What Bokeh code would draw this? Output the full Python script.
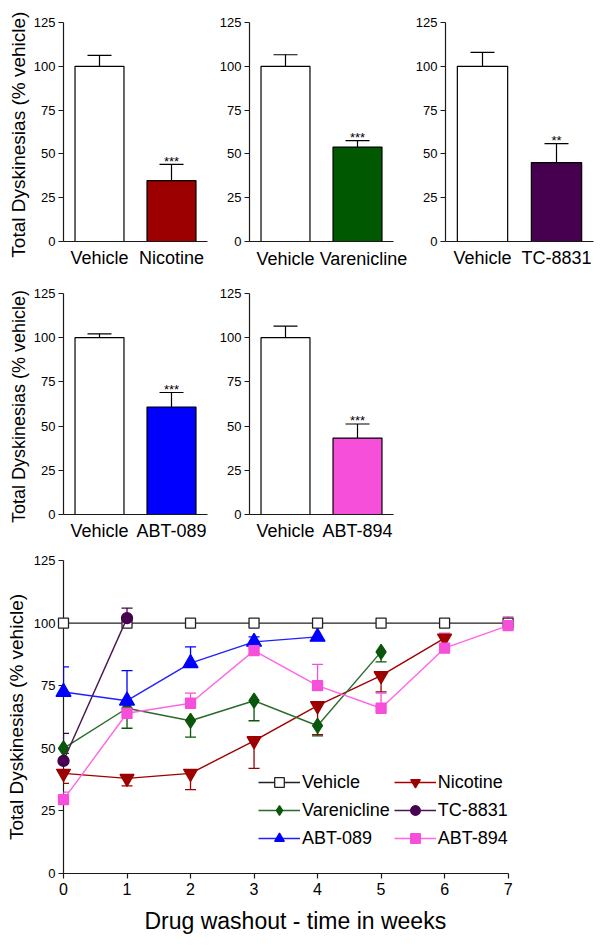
from bokeh.plotting import figure
from bokeh.models import (ColumnDataSource, Whisker, TeeHead, FixedTicker, Range1d,
                          FactorRange, Legend, LegendItem)
from bokeh.layouts import column, row
from bokeh.embed import file_html
from bokeh.resources import INLINE
from bokeh.core.properties import value

FONT = "Liberation Sans"

# ---------------- Bar panels data ----------------
bar_drugs = ["Nicotine", "Varenicline", "TC-8831", "ABT-089", "ABT-894"]
bar_vehicle_mean = [100, 100, 100, 100, 100]
bar_vehicle_sem = [6.2, 6.6, 7.9, 2.2, 6.5]
bar_drug_mean = [34.8, 53.9, 45.0, 60.8, 43.2]
bar_drug_sem = [9.2, 3.7, 10.9, 8.2, 8.0]
bar_stars = ["***", "***", "**", "***", "***"]
bar_colors = ["#9C0000", "#005800", "#47004F", "#0000FF", "#F64FD9"]
bar_yticks = [0, 25, 50, 75, 100, 125]

# ---------------- Washout data ----------------
weeks = [0, 1, 2, 3, 4, 5, 6, 7]
vehicle = [100, 100, 100, 100, 100, 100, 100, 100]

nic_weeks = [0, 1, 2, 3, 4, 5, 6]
nic_mean = [40, 38, 40, 53, 67, 79, 94]
nic_err = [4, 3, 6.5, 11, 11.5, 6.5, 3]          # drawn downward

var_weeks = [0, 1, 2, 3, 4, 5]
var_mean = [50, 66, 61, 69, 59, 88.5]
var_err = [2, 8, 6.5, 8, 4, 4]                     # drawn downward

tc_weeks = [0, 1]
tc_mean = [45, 102]
tc_err = [11, 4]                                   # drawn upward

a089_weeks = [0, 1, 2, 3, 4]
a089_mean = [72.5, 69, 84, 92.5, 94.5]
a089_err = [10, 12, 6.5, 2, 6]                     # drawn upward

a894_weeks = [0, 1, 2, 3, 4, 5, 6, 7]
a894_mean = [29.5, 64, 68, 89, 75, 66, 90, 99]
a894_err = [3, 2, 4, 1, 8.5, 6, 6, 3.5]            # drawn upward

AXIS_COLOR = "#1a1a1a"


def style_axes(p):
    p.outline_line_color = None
    p.xgrid.visible = False
    p.ygrid.visible = False
    p.background_fill_color = "white"
    p.border_fill_color = "white"
    for ax in (p.xaxis[0], p.yaxis[0]):
        ax.axis_line_color = AXIS_COLOR
        ax.axis_line_width = 1.2
        ax.major_tick_line_color = AXIS_COLOR
        ax.major_tick_line_width = 1.2
        ax.minor_tick_line_color = None
        ax.major_label_text_font = FONT
        ax.axis_label_text_font = FONT
        ax.major_label_text_color = "black"
        ax.axis_label_text_color = "black"
        ax.axis_label_text_font_style = "normal"


def bar_panel(i, left, frame_w, right, top, frame_h, bottom, title_size, drug_label_shift=0):
    cats = ["Vehicle", bar_drugs[i]]
    src = ColumnDataSource(dict(
        cat=cats,
        mean=[bar_vehicle_mean[i], bar_drug_mean[i]],
        upper=[bar_vehicle_mean[i] + bar_vehicle_sem[i], bar_drug_mean[i] + bar_drug_sem[i]],
        fill=["white", bar_colors[i]],
    ))
    p = figure(x_range=FactorRange(*cats, range_padding=0), y_range=Range1d(0, 125),
               width=left + frame_w + right, height=top + frame_h + bottom,
               min_border_left=left, min_border_right=right,
               min_border_top=top, min_border_bottom=bottom,
               output_backend="svg", toolbar_location=None)
    style_axes(p)
    p.vbar(x="cat", top="mean", width=0.68, source=src, fill_color="fill",
           line_color="black", line_width=1.2)
    p.add_layout(Whisker(base="cat", upper="upper", lower="mean", source=src,
                         upper_head=TeeHead(size=24, line_color="black", line_width=1.2),
                         lower_head=None, line_color="black", line_width=1.2))
    star_src = ColumnDataSource(dict(x=[bar_drugs[i]], y=[bar_drug_mean[i] + bar_drug_sem[i]],
                                     t=[bar_stars[i]]))
    p.text(x="x", y="y", text="t", source=star_src, text_align="center",
           text_baseline="alphabetic", y_offset=-3, text_font=value(FONT),
           text_font_size="13px", text_color="black")
    p.yaxis.ticker = FixedTicker(ticks=bar_yticks)
    p.yaxis.major_label_text_font_size = "13px"
    p.yaxis.major_tick_out = 5
    p.yaxis.major_tick_in = 0
    p.yaxis.major_label_standoff = 3
    p.xaxis.major_tick_out = 0
    p.xaxis.major_tick_in = 0
    p.xaxis.major_label_text_font_size = "18px"
    p.xaxis.major_label_standoff = 6
    if drug_label_shift:
        # category names drawn as text so the long name can sit clear of "Vehicle"
        p.xaxis.major_label_text_color = None
        for k, cat in enumerate(cats):
            r = p.text(x=[cat], y=[0], text=[cat], text_align="center", text_baseline="top",
                       x_offset=drug_label_shift if k == 1 else 0, y_offset=7,
                       text_font=value(FONT), text_font_size="18px", text_color="black")
            r.level = "overlay"
    if title_size:
        p.yaxis.axis_label = "Total Dyskinesias (%  vehicle)"
        p.yaxis.axis_label_text_font_size = title_size
        p.yaxis.axis_label_standoff = 2
    return p


f1 = bar_panel(0, 63, 144, 3, 22, 219, 39, "19px")
f2 = bar_panel(1, 39, 144, 19, 22, 219, 39, None, drug_label_shift=6)
f3 = bar_panel(2, 33, 148, 7, 22, 219, 39, None)
f4 = bar_panel(3, 63, 144, 3, 13, 221, 38, "18px")
f5 = bar_panel(4, 39, 144, 14, 13, 221, 38, None)

# ---------------- Washout line chart ----------------
p = figure(x_range=Range1d(0, 7.4), y_range=Range1d(0, 125), width=600, height=392,
           min_border_left=63, min_border_right=67, min_border_top=8, min_border_bottom=71,
           output_backend="svg", toolbar_location=None)
style_axes(p)
p.xaxis.bounds = (0, 7)
p.xaxis.ticker = FixedTicker(ticks=weeks)
p.yaxis.ticker = FixedTicker(ticks=bar_yticks)
p.xaxis.major_label_text_font_size = "16px"
p.yaxis.major_label_text_font_size = "13px"
p.xaxis.major_tick_out = 5
p.xaxis.major_tick_in = 0
p.yaxis.major_tick_out = 5
p.yaxis.major_tick_in = 0
p.xaxis.major_label_standoff = 4
p.yaxis.major_label_standoff = 3
p.xaxis.axis_label = "Drug washout  - time in weeks"
p.xaxis.axis_label_text_font_size = "23px"
p.xaxis.axis_label_standoff = 10
p.yaxis.axis_label = "Total Dyskinesias (% vehicle)"
p.yaxis.axis_label_text_font_size = "19px"
p.yaxis.axis_label_standoff = 4

series = [
    # name, weeks, mean, err, direction, line color, marker color, marker, size, fill
    ("Vehicle", weeks, vehicle, None, 0, "#222222", "#222222", "square", 10, "white"),
    ("Nicotine", nic_weeks, nic_mean, nic_err, -1, "#A00000", "#9C0000", "inverted_triangle", 14, None),
    ("Varenicline", var_weeks, var_mean, var_err, -1, "#2A6A2A", "#0A560A", "diamond", 15, None),
    ("TC-8831", tc_weeks, tc_mean, tc_err, 1, "#4A1450", "#47004F", "circle", 11, None),
    ("ABT-089", a089_weeks, a089_mean, a089_err, 1, "#2020FF", "#0000FF", "triangle", 15, None),
    ("ABT-894", a894_weeks, a894_mean, a894_err, 1, "#FF66E6", "#F64FD9", "square", 10, None),
]

items = {}
for name, xs, ys, errs, direction, lc, mc, marker, size, fill in series:
    data = dict(x=xs, y=ys)
    if errs is not None:
        if direction < 0:
            data["lo"] = [y - e for y, e in zip(ys, errs)]
            data["hi"] = list(ys)
        else:
            data["lo"] = list(ys)
            data["hi"] = [y + e for y, e in zip(ys, errs)]
    src = ColumnDataSource(data)
    if errs is not None:
        w = Whisker(base="x", upper="hi", lower="lo", source=src, line_color=mc, line_width=1.3,
                    upper_head=TeeHead(size=11, line_color=mc, line_width=1.3) if direction > 0 else None,
                    lower_head=TeeHead(size=11, line_color=mc, line_width=1.3) if direction < 0 else None,
                    level="annotation")
        p.add_layout(w)
    lr = p.line("x", "y", source=src, line_color=lc, line_width=1.4)
    lr.level = "overlay"
    sr = p.scatter("x", "y", source=src, marker=marker, size=size,
                   fill_color=fill if fill else mc, line_color=mc, line_width=1.3)
    sr.level = "overlay"
    items[name] = LegendItem(label=name, renderers=[lr, sr])

order = ["Vehicle", "Nicotine", "Varenicline", "TC-8831", "ABT-089", "ABT-894"]
legend = Legend(items=[items[n] for n in order], location=(195, 23), orientation="horizontal",
                ncols=2, label_text_font=FONT, label_text_font_size="18px",
                label_text_color="black", glyph_width=42, glyph_height=24, label_height=24,
                label_standoff=2, spacing=4, padding=0, margin=0,
                border_line_color=None, background_fill_alpha=0)
legend.level = "overlay"
p.add_layout(legend)

layout = column(row(f1, f2, f3), row(f4, f5), p)
open("out.html", "w").write(file_html(layout, INLINE))
